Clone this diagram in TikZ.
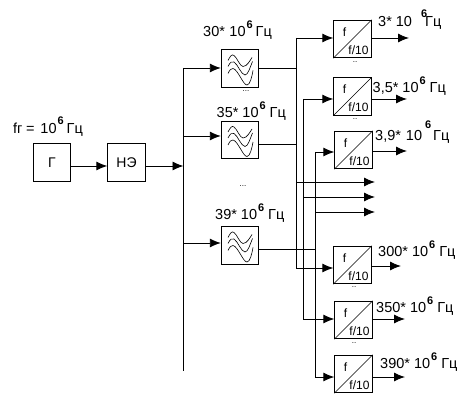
\documentclass[tikz,border=0pt]{standalone}
\usepackage{fontspec}
\setmainfont{Liberation Sans}
\usetikzlibrary{arrows.meta}
\tikzset{
  x=1pt,y=-1pt,
  conn/.style={line width=0.9pt,-{Latex[length=11pt,width=9pt]}},
  wire/.style={line width=0.9pt},
  wave/.style={line width=0.6pt},
  blk/.style={draw,line width=0.9pt,minimum width=37.5pt,minimum height=37.5pt,inner sep=0,font=\fontsize{14}{14}\selectfont},
  lab/.style={anchor=base west,inner sep=0,font=\fontsize{14.5}{14.5}\selectfont},
  small/.style={inner sep=0,font=\fontsize{12}{12}\selectfont},
  dots/.style={anchor=base,inner sep=0,font=\fontsize{8}{8}\selectfont}
}
% #1 prefix, #2 gap after the prefix, #3 gap before the 6, #4 raise, #5 gap after the 6
\newcommand{\freq}[5]{#1\hspace{#2}10\hspace{#3}\raisebox{#4}{\fontsize{11}{11}\selectfont\bfseries 6}\hspace{#5}Гц}
\newcommand{\wavy}[1]{%
  \begin{scope}[shift={(#1)}]
    \draw[wave] (-12,-8) .. controls (-10,-12) and (-8,-15) .. (-6,-13)
      .. controls (-3,-11) and (0,-2) .. (3,-2)
      .. controls (7,-2) and (10,-8) .. (12,-11);
    \draw[wave] (-12,-2) .. controls (-10,-6) and (-8,-8) .. (-6,-6.5)
      .. controls (-2,-4) and (1,6) .. (5,6.5)
      .. controls (8,6.5) and (10,-1) .. (12.5,-7);
    \draw[wave] (-12,5) .. controls (-10,1) and (-9,0) .. (-7,0)
      .. controls (-2,1) and (3,16.5) .. (7,16.5)
      .. controls (10,16.5) and (12,8) .. (13,2);
  \end{scope}}
\newcommand{\conv}[3]{%
  \node[blk] (#1) at (#2,#3) {};
  \draw[line width=0.7pt] (#1.south west) -- (#1.north east);
  \node[small] at (#2-8,#3-7) {f};
  \node[small] at (#2+6,#3+11) {f/10};
}
\begin{document}
\begin{tikzpicture}
\useasboundingbox (0,0) rectangle (469,401);
\fill[white] (0,0) rectangle (469,401);
\node[lab] (fg) at (13,134) {fг\hspace{3.5pt}=\hspace{6pt}10\hspace{1pt}\raisebox{9pt}{\fontsize{11}{11}\selectfont\bfseries 6}\hspace{3pt}Гц};
\node[blk] (g) at (52,162.5) {Г};
\node[blk] (ne) at (126.5,162.5) {НЭ};
\coordinate (bt) at (183.5,68);
\coordinate (bb) at (183.5,371);
\draw[wire] (bt) -- (bb);
\coordinate (bm) at (183.5,166);
\draw[conn] (g.east |- bm) -- (ne.west |- bm);
\draw[conn] (ne.east |- bm) -- (bm);
% filters
\node[blk] (f1) at (240,68.5) {};
\node[blk] (f2) at (240,140) {};
\node[blk] (f3) at (240,245.5) {};
\wavy{240,68.5}
\wavy{240,140}
\wavy{240,245.5}
\coordinate (i1) at (183.5,68);
\coordinate (i2) at (183.5,136);
\coordinate (i3) at (183.5,243);
\draw[conn] (i1) -- (f1.west |- i1);
\draw[conn] (i2) -- (f2.west |- i2);
\draw[conn] (i3) -- (f3.west |- i3);
\node[lab] (l1) at (203,37) {\freq{30*}{4.5pt}{1pt}{8pt}{3pt}};
\node[lab] (l2) at (216.5,117.5) {\freq{35*}{4pt}{1pt}{8pt}{4pt}};
\node[lab] (l3) at (215,219) {\freq{39*}{4pt}{1pt}{8pt}{4pt}};
\node[dots] (d1) at (246,92) {...};
\node[dots] (d2) at (243,186) {...};
% converters
\conv{c1}{352.5}{39}
\conv{c2}{352.5}{96.5}
\conv{c3}{353.5}{150}
\conv{c4}{352.5}{265}
\conv{c5}{353.5}{320}
\conv{c6}{353.5}{374}
% verticals
\coordinate (v1t) at (296,38);
\coordinate (v1b) at (296,268);
\coordinate (v2t) at (303,99);
\coordinate (v2b) at (303,319);
\coordinate (v3t) at (315,152);
\coordinate (v3b) at (315,377);
\draw[wire] (v1t) -- (v1b);
\draw[wire] (v2t) -- (v2b);
\draw[wire] (v3t) -- (v3b);
\draw[wire] (f1.east |- i1) -- (v1t |- i1);
\coordinate (o2) at (296,144);
\coordinate (o3) at (315,249);
\draw[wire] (f2.east |- o2) -- (o2);
\draw[wire] (f3.east |- o3) -- (o3);
\draw[conn] (v1t) -- (c1.west |- v1t);
\draw[conn] (v2t) -- (c2.west |- v2t);
\draw[conn] (v3t) -- (c3.west |- v3t);
\draw[conn] (v1b) -- (c4.west |- v1b);
\draw[conn] (v2b) -- (c5.west |- v2b);
\draw[conn] (v3b) -- (c6.west |- v3b);
% branches
\coordinate (e1) at (375,182);
\coordinate (e2) at (375,197);
\coordinate (e3) at (375,212);
\draw[conn] (v1t |- e1) -- (e1);
\draw[conn] (v2t |- e2) -- (e2);
\draw[conn] (v3t |- e3) -- (e3);
% outputs
\coordinate (q1) at (409,38);
\coordinate (q2) at (407,99);
\coordinate (q3) at (407,151);
\coordinate (q4) at (401,266);
\coordinate (q5) at (405,319);
\coordinate (q6) at (405,377);
\foreach \n in {1,...,6}{\draw[conn] (c\n.east |- q\n) -- (q\n);}
\node[lab] (t1) at (378,27) {\freq{3*}{4pt}{9pt}{9pt}{-2pt}};
\node[lab] (t2) at (372.5,92.5) {\freq{3,5*}{4pt}{1pt}{8pt}{4pt}};
\node[lab] (t3) at (375,141) {\freq{3,9*}{5pt}{3pt}{12pt}{2pt}};
\node[lab] (t4) at (378,256) {\freq{300*}{4pt}{1pt}{8pt}{4pt}};
\node[lab] (t5) at (376,312.5) {\freq{350*}{4pt}{1pt}{8pt}{4pt}};
\node[lab] (t6) at (380,368) {\freq{390*}{4pt}{1pt}{8pt}{4pt}};
\node[dots] (d3) at (355,62.5) {..};
\node[dots] (d4) at (355,119.5) {..};
\node[dots] (d5) at (354,287.5) {..};
\node[dots] (d6) at (354,343.5) {..};
\end{tikzpicture}
\end{document}
